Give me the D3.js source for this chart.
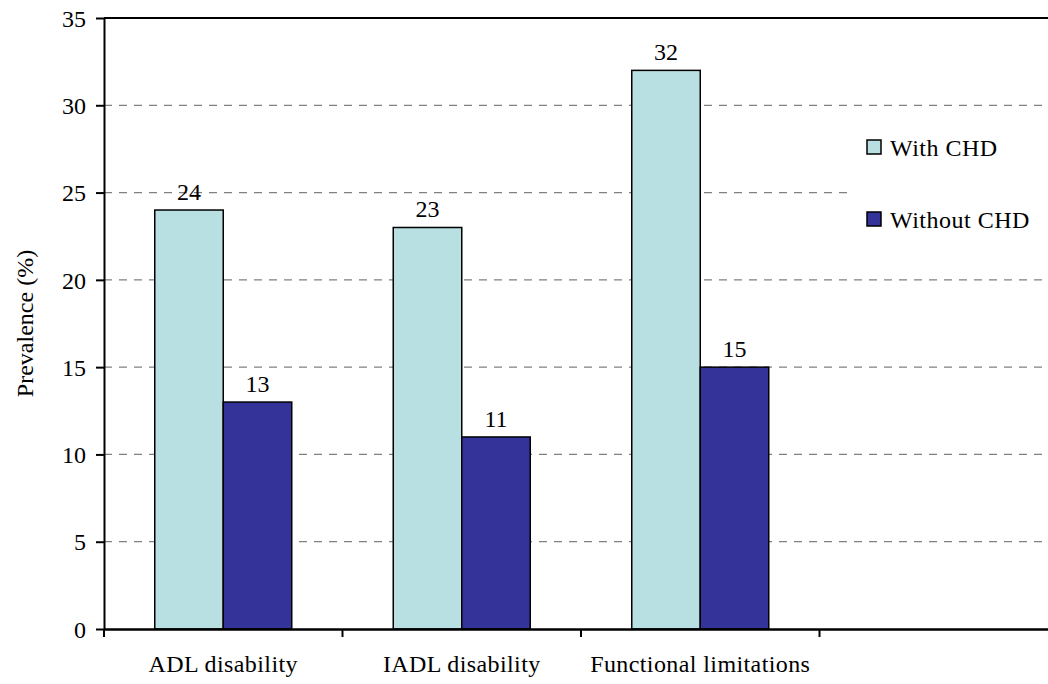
<!DOCTYPE html>
<html>
<head>
<meta charset="utf-8">
<script src="https://cdn.jsdelivr.net/npm/d3@7"></script>
<style>
  body { margin: 0; background: #fff; }
</style>
</head>
<body>
<script>
// data
const categories = ['ADL disability', 'IADL disability', 'Functional limitations', '']
const seriesNames = ['With CHD', 'Without CHD']
const withCHD = [24, 23, 32]
const withoutCHD = [13, 11, 15]
const yTicks = [0, 5, 10, 15, 20, 25, 30, 35]
const colors = ['#b8e0e3', '#333399']

const FONT = '"Liberation Serif", "Times New Roman", serif'
const width = 1048, height = 684
const svg = d3.select('body').append('svg')
    .attr('width', width)
    .attr('height', height)
    .attr('font-family', FONT)

const x = d3.scaleBand().domain(categories).range([104, 1058])
const y = d3.scaleLinear().domain([0, 35]).range([629, 18])
const groupW = 137
const inner = d3.scaleBand().domain(seriesNames).range([0, groupW])

// gridlines
svg.selectAll('.grid')
    .data(yTicks.filter(d => d > 0 && d < 35))
    .enter()
    .append('line')
    .attr('x1', 104)
    .attr('x2', width)
    .attr('y1', d => y(d))
    .attr('y2', d => y(d))
    .attr('stroke', '#808080')
    .attr('stroke-width', 1.3)
    .attr('stroke-dasharray', '8,7')

// top border
svg.append('line')
    .attr('x1', 104).attr('x2', width)
    .attr('y1', y(35)).attr('y2', y(35))
    .attr('stroke', '#000').attr('stroke-width', 2)

// bars
const rows = categories.slice(0, 3).map((c, i) => [
    { cat: c, s: seriesNames[0], v: withCHD[i] },
    { cat: c, s: seriesNames[1], v: withoutCHD[i] }
]).flat()

let barX = d => x(d.cat) + (x.bandwidth() - groupW) / 2 + inner(d.s)

svg.selectAll('.bar')
    .data(rows)
    .enter()
    .append('rect')
    .attr('x', barX)
    .attr('y', d => y(d.v))
    .attr('width', inner.bandwidth())
    .attr('height', d => y(0) - y(d.v))
    .attr('fill', d => colors[seriesNames.indexOf(d.s)])
    .attr('stroke', '#000')
    .attr('stroke-width', 1.5)

svg.selectAll('.val')
    .data(rows)
    .enter()
    .append('text')
    .text(d => d.v)
    .attr('x', d => barX(d) + inner.bandwidth() / 2)
    .attr('y', d => y(d.v) - 10)
    .attr('text-anchor', 'middle')
    .attr('font-family', FONT)
    .attr('font-size', '24px')

// legend
svg.append('rect')
    .attr('x', 847).attr('y', 120)
    .attr('width', 210).attr('height', 145)
    .attr('fill', '#fff')

const leg = svg.selectAll('.leg')
    .data(seriesNames)
    .enter()
    .append('g')
    .attr('transform', (d, i) => 'translate(867,' + (140 + i * 72) + ')')
leg.append('rect')
    .attr('width', 14).attr('height', 14)
    .attr('fill', (d, i) => colors[i])
    .attr('stroke', '#000')
    .attr('stroke-width', 1.5)
leg.append('text')
    .text(d => d)
    .attr('x', 23)
    .attr('y', 16)
    .attr('font-family', FONT)
    .attr('font-size', '24px')
    .attr('letter-spacing', '0.5px')

// axes
const yAxis = d3.axisLeft(y).tickValues(yTicks).tickSize(8).tickSizeOuter(0).tickPadding(10)
const gy = svg.append('g').attr('transform', 'translate(104,0)').call(yAxis)
gy.attr('font-family', FONT)
gy.selectAll('text').attr('font-size', '24px').attr('dy', '0.34em')
gy.select('.domain').attr('stroke-width', 2)
gy.selectAll('line').attr('stroke-width', 2)

const xAxis = d3.axisBottom(x).tickSize(0).tickPadding(26)
const gx = svg.append('g').attr('transform', 'translate(0,629)').call(xAxis)
gx.attr('font-family', FONT)
gx.selectAll('text').attr('font-size', '24px').attr('letter-spacing', '0.4px')
gx.select('.domain').attr('stroke-width', 2.5)

// x ticks at band boundaries
svg.selectAll('.xtick')
    .data(categories)
    .enter()
    .append('line')
    .attr('x1', d => x(d))
    .attr('x2', d => x(d))
    .attr('y1', 629)
    .attr('y2', 637)
    .attr('stroke', '#000')
    .attr('stroke-width', 2)

svg.append('text')
    .text('Prevalence (%)')
    .attr('transform', 'translate(33,' + y(17.5) + ') rotate(-90)')
    .attr('text-anchor', 'middle')
    .attr('font-family', FONT)
    .attr('font-size', '24px')
</script>
</body>
</html>
